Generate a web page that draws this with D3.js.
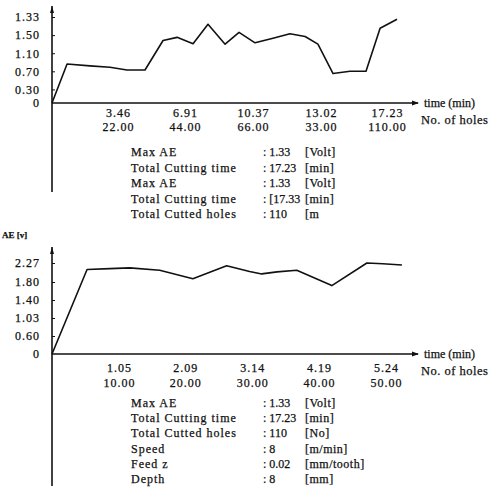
<!DOCTYPE html>
<html lang="en">
<head>
    <meta charset='utf-8'>
    <title>AE vs time</title>
    <style>
        body{ margin: 0; background: #fff; }
        text { font-family: "Liberation Serif", "DejaVu Serif", serif; fill: #111; stroke: #111; stroke-width: 0.25px; }
        .tick text { font-size: 12px; letter-spacing: 1px; }
        .info { font-size: 12px; letter-spacing: 1px; }
    </style>
</head>
<body>
<div id="fig"></div>
<script src="https://cdn.jsdelivr.net/npm/d3@7"></script>
<script>
    var width = 502, height = 488;

    // top chart
    var topTimes = [3.46, 6.91, 10.37, 13.02, 17.23];
    var topHoles = ["22.00", "44.00", "66.00", "33.00", "110.00"];
    var topYTicks = [0, 0.3, 0.7, 1.1, 1.5, 1.9];
    var topYLabels = ["0", "0.30", "0.70", "1.10", "1.50", "1.33"];
    var topTime = [0, 0.79, 1.99, 3.04, 3.92, 4.85, 5.78, 6.50, 7.32, 8.08, 8.95, 9.66,
        10.45, 11.15, 11.81, 12.40, 12.90, 13.79, 14.87, 15.89, 16.79, 17.87];
    var topAE = [0, 0.86, 0.82, 0.79, 0.73, 0.73, 1.38, 1.45, 1.31, 1.74, 1.30, 1.56,
        1.33, 1.43, 1.53, 1.47, 1.30, 0.65, 0.70, 0.70, 1.65, 1.85];
    var topInfo = [
        ["Max AE", ": 1.33", "[Volt]"],
        ["Total Cutting time", ": 17.23", "[min]"],
        ["Max AE", ": 1.33", "[Volt]"],
        ["Total Cutting time", ": [17.33", "[min]"],
        ["Total Cutted holes", ": 110", "[m"]
    ];

    // bottom chart
    var botTimes = [1.05, 2.09, 3.14, 4.19, 5.24];
    var botHoles = ["10.00", "20.00", "30.00", "40.00", "50.00"];
    var botYTicks = [0, 0.60, 1.03, 1.40, 1.80, 2.27];
    var botTime = [0, 0.55, 0.91, 1.22, 1.69, 2.21, 2.74, 3.10, 3.29, 3.53, 3.84, 4.39, 4.94, 5.19, 5.49];
    var botAE = [0, 2.11, 2.13, 2.15, 2.09, 1.88, 2.20, 2.06, 2.00, 2.05, 2.09, 1.72, 2.27, 2.25, 2.22];
    var botInfo = [
        ["Max AE", ": 1.33", "[Volt]"],
        ["Total Cutting time", ": 17.23", "[min]"],
        ["Total Cutted holes", ": 110", "[No]"],
        ["Speed", ": 8", "[m/min]"],
        ["Feed z", ": 0.02", "[mm/tooth]"],
        ["Depth", ": 8", "[mm]"]
    ];

    var svg = d3.select("#fig").append("svg")
        .attr("width", width).attr("height", height);

    var x0 = 52, axisEnd = 418;

    function drawPanel(o) {
        var g = svg.append("g");

        // left axis line with arrow, runs down past the x axis
        g.append("line").attr("x1", x0).attr("x2", x0)
            .attr("y1", o.yTop).attr("y2", o.yBottom)
            .attr("stroke", "#111").attr("stroke-width", 1.6);
        g.append("path")
            .attr("d", "M" + (x0 - 2) + "," + (o.yTop + 7) + "L" + x0 + "," + o.yTop + "L" + (x0 + 2) + "," + (o.yTop + 7) + "Z")
            .attr("fill", "#111");

        // x axis line with arrow
        var y0 = o.y(0);
        g.append("line").attr("x1", x0).attr("x2", axisEnd)
            .attr("y1", y0).attr("y2", y0)
            .attr("stroke", "#111").attr("stroke-width", 1.4);
        g.append("path")
            .attr("d", "M" + (axisEnd - 6) + "," + (y0 - 2.5) + "L" + (axisEnd + 1) + "," + y0 + "L" + (axisEnd - 6) + "," + (y0 + 2.5) + "Z")
            .attr("fill", "#111");

        // y axis ticks + labels
        var yAxis = d3.axisLeft(o.y).tickValues(o.yTicks)
            .tickSize(-3).tickPadding(12)
            .tickFormat(function(d, i) { return o.yLabels[i]; });
        var ya = g.append("g").attr("transform", "translate(" + x0 + ",0)").call(yAxis);
        ya.select(".domain").remove();
        ya.selectAll(".tick line").attr("stroke", "#111");
        ya.selectAll(".tick").filter(function(d) { return d === 0; }).select("line").remove();

        // two rows of x labels
        var row1 = d3.axisBottom(o.x).tickValues(o.times).tickSize(0).tickPadding(o.pad1)
            .tickFormat(function(d) { return d.toFixed(2); });
        var row2 = d3.axisBottom(o.x).tickValues(o.times).tickSize(0).tickPadding(o.pad2)
            .tickFormat(function(d, i) { return o.holes[i]; });
        [row1, row2].forEach(function(ax) {
            var a = g.append("g").attr("transform", "translate(0," + y0 + ")").call(ax);
            a.select(".domain").remove();
        });

        g.append("text").attr("x", axisEnd + 6).attr("y", y0 + 4)
            .style("font-size", "12px").text("time (min)");
        g.append("text").attr("x", axisEnd + 3).attr("y", y0 + 21)
            .style("font-size", "12.5px").style("letter-spacing", "0.5px").text("No. of holes");

        // data line
        var line = d3.line()
            .x(function(d) { return o.x(d[0]); })
            .y(function(d) { return o.y(d[1]); });
        g.append("path")
            .datum(d3.zip(o.tx, o.ae))
            .attr("d", line)
            .attr("fill", "none")
            .attr("stroke", "#111")
            .attr("stroke-width", 1.6)
            .attr("stroke-linejoin", "round");

        // info block
        var rows = g.selectAll(".inforow").data(o.info).enter()
            .append("g").attr("class", "inforow")
            .attr("transform", function(d, i) { return "translate(0," + (o.infoY + i * o.infoStep) + ")"; });
        rows.append("text").attr("class", "info").attr("x", 131).text(function(d) { return d[0]; });
        rows.append("text").attr("class", "info").attr("x", 263).style("letter-spacing", "0px").text(function(d) { return d[1]; });
        rows.append("text").attr("class", "info").attr("x", 305).style("letter-spacing", "0.5px").text(function(d) { return d[2]; });
    }

    var topX = d3.scaleLinear()
        .domain([0].concat(topTimes))
        .range([52, 118, 185, 253, 321, 387]);
    var topY = d3.scaleLinear().domain([0, 1.9]).range([103, 17]);

    drawPanel({
        x: topX, y: topY, yTop: 6, yBottom: 192,
        yTicks: topYTicks, yLabels: topYLabels,
        times: topTimes, holes: topHoles, pad1: 5, pad2: 19,
        tx: topTime, ae: topAE,
        info: topInfo, infoY: 156, infoStep: 15.5
    });

    var botX = d3.scaleLinear().domain([0, 5.24]).range([52, 386]);
    var botY = d3.scaleLinear()
        .domain(botYTicks)
        .range([354, 336, 318, 300, 282, 263]);

    drawPanel({
        x: botX, y: botY, yTop: 247, yBottom: 486,
        yTicks: botYTicks, yLabels: botYTicks.map(function(d) { return d === 0 ? "0" : d.toFixed(2); }),
        times: botTimes, holes: botHoles, pad1: 9, pad2: 24,
        tx: botTime, ae: botAE,
        info: botInfo, infoY: 407, infoStep: 15.2
    });

    svg.append("text").attr("x", 2).attr("y", 238)
        .style("font-size", "9px").style("font-weight", "bold")
        .text("AE [v]");
</script>
</body>
</html>
